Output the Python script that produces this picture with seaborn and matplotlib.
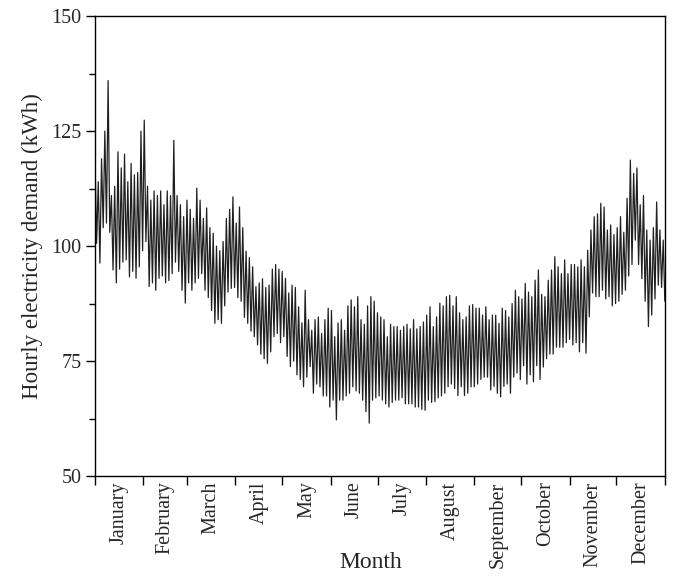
import numpy as np
import pandas as pd
import matplotlib
matplotlib.use("Agg")
import matplotlib.pyplot as plt
import seaborn as sns

# --- dados (envelope alto/baixo, ~2 dias por amostra) ---
picos = [
    # jan - inicio de mar
    119, 114, 119, 125, 136, 111, 113, 120.5, 117, 120, 114, 118, 115.5, 116, 125,
    127.4, 113, 110, 112, 111, 112, 109, 112, 111, 123, 111, 109, 106.4, 110, 108,
    # mar - inicio de mai
    106, 112.6, 110, 106, 108.3, 104, 102.8, 100, 99, 101, 106, 108, 110.7, 105, 108.5,
    104, 98.9, 97.5, 95.5, 91.2, 92, 92.9, 91, 91.5, 95, 96, 95, 94.5, 93,
    # mai - inicio de jul
    89.8, 91.5, 91, 86.8, 83.3, 90.4, 84, 81.7, 84, 84.6, 81, 84, 86.5, 86, 80.3,
    83.3, 84, 81.7, 87, 88.3, 86.8, 89, 84, 83, 87, 89, 88, 85.5, 84.6,
    # jul - inicio de set
    84, 80.3, 83, 82.5, 82.5, 81.7, 82.5, 83, 82, 84, 82, 82.5, 83.5, 85, 86.8,
    82.5, 84.6, 87.6, 87, 89, 89.3, 87, 89, 85.5, 84, 84.6, 87, 87.3, 86.5,
    # set - inicio de nov
    86.5, 85, 86.8, 84, 85, 85, 83.2, 86.5, 86, 84.6, 87.5, 90.4, 89, 88.5, 91.9,
    90, 89, 92.6, 94.8, 89.5, 89, 92.6, 94.8, 97.7, 95.5, 94, 97, 94, 96,
    # nov - dez
    96, 95.5, 97, 95.5, 99.1, 103.5, 106.4, 107, 109.3, 108.5, 103.5, 104.6, 102.5, 104,
    106.4, 103, 110.4, 118.7, 115.8, 117, 109, 111, 103.5, 101.3, 104, 109.6, 103.5, 101.3,
]
vales = [
    100.6, 96.3, 104, 105, 103, 94.8, 92, 95, 96.5, 97, 93.3, 94.5, 93, 95.5, 99,
    101, 91.2, 92, 90.4, 93, 93.5, 92, 92.5, 94, 96.5, 94.5, 90.4, 87.6, 92, 90.4,
    92, 93, 94, 90.4, 88.8, 86, 83.2, 84, 83.2, 87, 90, 90.8, 91, 88.8, 88,
    84.5, 83.2, 81.5, 80.3, 78.5, 76.5, 75.5, 74.5, 77, 80.3, 81, 79, 80.3, 76,
    73.8, 75, 72, 71, 69.4, 71.5, 73.8, 68, 70, 69.4, 67.4, 67.4, 65, 66.5, 62.2,
    66.5, 66.5, 67.4, 68, 69.4, 68.5, 68, 66.5, 64, 61.5, 66.5, 67, 67.4, 66.5,
    65.7, 65, 66, 66.5, 66.5, 67, 65.7, 65.7, 65.7, 65, 65, 64.5, 64.3, 66.5, 66,
    66.2, 67, 67.4, 68, 69.4, 70, 69, 67.5, 69.4, 67.5, 68, 69.4, 69.4, 70,
    71, 71.5, 71.5, 68.7, 69.5, 68, 67.2, 69.5, 70, 68, 71.5, 72.4, 71, 74, 70,
    72, 70.5, 74, 71, 73.7, 75.5, 76.5, 76.5, 78, 78, 78, 79, 79.7, 78.5,
    79, 77, 79, 76.7, 84.6, 89.8, 89, 89, 90.4, 88.5, 89, 87, 87.5, 88,
    89.5, 90.4, 93.5, 96, 101.3, 96, 92.9, 88, 82.5, 85, 88.5, 91.5, 91, 88,
]
meses = ["January", "February", "March", "April", "May", "June", "July",
         "August", "September", "October", "November", "December"]
dias_mes = [31, 28, 31, 30, 31, 30, 31, 31, 30, 31, 30, 31]

# alterna pico e vale para formar a oscilação diária
demanda = np.column_stack([picos, vales]).ravel()
dia = np.linspace(0, 365, len(demanda))
df = pd.DataFrame({"dia": dia, "demanda": demanda})

sns.set_theme(style="ticks")
plt.rcParams["font.family"] = ["Liberation Serif", "DejaVu Serif"]

fig = plt.figure(figsize=(6.76, 5.77), dpi=100)
ax = fig.add_axes([0.1405, 0.175, 0.843, 0.797])

sns.lineplot(data=df, x="dia", y="demanda", color="#202020", linewidth=0.9,
             estimator=None, sort=False, ax=ax)

limites = np.concatenate([[0], np.cumsum(dias_mes)])
centros = limites[:-1] + np.array(dias_mes) / 2

ax.set_xlim(0, 365)
ax.set_ylim(50, 150)
ax.set_xticks(limites)
ax.set_xticklabels([])
ax.set_xticks(centros, minor=True)
ax.set_xticklabels(meses, minor=True, rotation=90, va="top", ha="center", fontsize=14.5)
ax.tick_params(axis="x", which="major", direction="out", length=6.5, width=1.0, color="black")
ax.tick_params(axis="x", which="minor", length=0, pad=4)

ax.set_yticks([50, 75, 100, 125, 150])
ax.set_yticks([62.5, 87.5, 112.5, 137.5], minor=True)
ax.tick_params(axis="y", which="major", direction="out", length=6.5, width=1.0,
               labelsize=14.5, pad=3, color="black")
ax.tick_params(axis="y", which="minor", direction="out", length=4, width=1.0, color="black")

for lado in ["top", "right", "left", "bottom"]:
    ax.spines[lado].set_visible(True)
    ax.spines[lado].set_linewidth(1.0)
    ax.spines[lado].set_color("black")

ax.set_xlabel("Month", fontsize=17)
ax.xaxis.label.set_va("center")
ax.xaxis.set_label_coords(0.484, -0.187)
ax.set_ylabel("Hourly electricity demand (kWh)", fontsize=16.5)
ax.yaxis.label.set_va("center")
ax.yaxis.set_label_coords(-0.11, 0.5)

fig.savefig("out.png", dpi=100)
